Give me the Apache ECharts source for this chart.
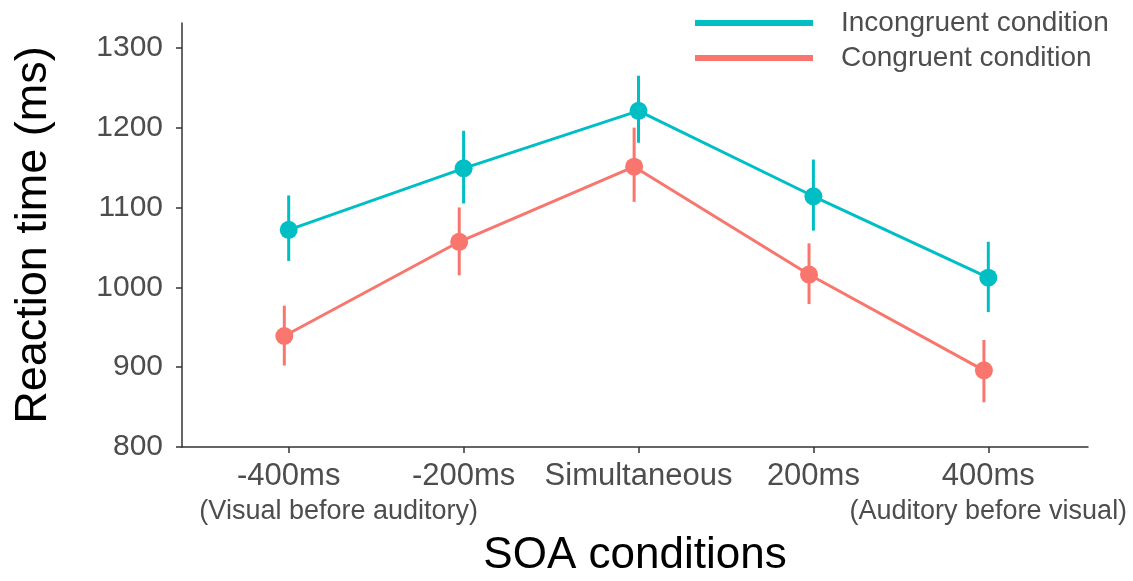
<!DOCTYPE html>
<html>
<head>
<meta charset="utf-8">
<script src="https://cdn.jsdelivr.net/npm/echarts@6/dist/echarts.min.js"></script>
<style>html,body{margin:0;padding:0;background:#fff}#c{width:1133px;height:581px}</style>
</head>
<body>
<div id="c"></div>
<script>
var categories = ['-400ms', '-200ms', 'Simultaneous', '200ms', '400ms'];
var subLabels = ['(Visual before auditory)', '', '', '', '(Auditory before visual)'];
var yTicks = [800, 900, 1000, 1100, 1200, 1300];
var incongruentMean = [1072, 1149, 1221, 1114, 1012];
var incongruentLow = [1033, 1105, 1181, 1071, 969];
var incongruentHigh = [1115, 1196, 1265, 1160, 1057];
var congruentMean = [939, 1057, 1151, 1016, 896];
var congruentLow = [902, 1015, 1107, 979, 856];
var congruentHigh = [977, 1100, 1200, 1055, 934];

var CYAN = '#00BFC4', RED = '#F8766D';
var SANS = '"Liberation Sans", Arial, sans-serif';
var offInc = 0, offCon = -0.025;

function pts(mean, off) { return mean.map(function (v, i) { return [i + 1 + off, v]; }); }
function bars(lo, hi, off) { return lo.map(function (v, i) { return [i + 1 + off, v, hi[i]]; }); }
function errRender(color) {
  return function (params, api) {
    var a = api.coord([api.value(0), api.value(1)]);
    var b = api.coord([api.value(0), api.value(2)]);
    return { type: 'line', shape: { x1: a[0], y1: a[1], x2: b[0], y2: b[1] },
             style: { stroke: color, lineWidth: 3 } };
  };
}
var xTickVals = categories.map(function (c, i) { return i + 1; });
var subTickVals = [];
subLabels.forEach(function (s, i) { if (s) subTickVals.push(i + 1); });

var chart = echarts.init(document.getElementById('c'));
chart.setOption({
  animation: false,
  grid: { left: 182, right: 45, top: 23, bottom: 134, containLabel: false, outerBoundsMode: 'none' },
  legend: {
    data: ['Incongruent condition', 'Congruent condition'],
    orient: 'vertical', left: 690, top: 4, itemGap: 7,
    itemWidth: 118, itemHeight: 6, icon: 'rect',
    textStyle: { fontFamily: SANS, fontSize: 28, color: '#4d4d4d', padding: [0, 0, 0, 23] }
  },
  xAxis: [{
    type: 'value', min: 0.39, max: 5.57, position: 'bottom',
    name: 'SOA conditions', nameLocation: 'middle', nameGap: 87, nameMoveOverlap: false,
    nameTextStyle: { fontFamily: SANS, fontSize: 44, color: '#000' },
    splitLine: { show: false },
    axisLine: { show: true, lineStyle: { color: '#333', width: 1.5 } },
    axisTick: { show: true, length: 6, customValues: xTickVals, lineStyle: { color: '#333', width: 1.5 } },
    axisLabel: {
      customValues: xTickVals, margin: 14, hideOverlap: false, interval: 0,
      fontFamily: SANS, fontSize: 31, color: '#4d4d4d',
      formatter: function (v) { return categories[Math.round(v) - 1]; }
    }
  }, {
    type: 'value', min: 0.39, max: 5.57, position: 'bottom', offset: 0,
    splitLine: { show: false },
    axisLine: { show: false }, axisTick: { show: false },
    axisLabel: {
      customValues: subTickVals, margin: 51, hideOverlap: false, interval: 0,
      formatter: function (v) {
        var i = Math.round(v) - 1;
        return '{' + (i === 0 ? 's1' : 's') + '|' + subLabels[i] + '}';
      },
      rich: {
        s: { fontFamily: SANS, fontSize: 27, color: '#4d4d4d' },
        s1: { fontFamily: SANS, fontSize: 27, color: '#4d4d4d', padding: [0, 0, 0, 100] }
      }
    }
  }],
  yAxis: {
    type: 'value', min: 800, max: 1331,
    name: 'Reaction time (ms)', nameLocation: 'middle', nameGap: 126, nameRotate: 90, nameMoveOverlap: false,
    nameTextStyle: { fontFamily: SANS, fontSize: 45, color: '#000' },
    splitLine: { show: false },
    axisLine: { show: true, lineStyle: { color: '#333', width: 1.5 } },
    axisTick: { show: true, length: 6, customValues: yTicks, lineStyle: { color: '#333', width: 1.5 } },
    axisLabel: { customValues: yTicks, margin: 19, fontFamily: SANS, fontSize: 30, color: '#4d4d4d',
      formatter: function (v) { return String(v); } }
  },
  series: [
    { name: 'Congruent condition', type: 'line', data: pts(congruentMean, offCon),
      color: RED, lineStyle: { color: RED, width: 3 }, symbol: 'circle', symbolSize: 18,
      itemStyle: { color: RED }, z: 3 },
    { name: 'Congruent err', type: 'custom', data: bars(congruentLow, congruentHigh, offCon),
      renderItem: errRender(RED), encode: { x: 0, y: [1, 2] }, z: 3 },
    { name: 'Incongruent condition', type: 'line', data: pts(incongruentMean, offInc),
      color: CYAN, lineStyle: { color: CYAN, width: 3 }, symbol: 'circle', symbolSize: 18,
      itemStyle: { color: CYAN }, z: 4 },
    { name: 'Incongruent err', type: 'custom', data: bars(incongruentLow, incongruentHigh, offInc),
      renderItem: errRender(CYAN), encode: { x: 0, y: [1, 2] }, z: 4 }
  ]
});
</script>
</body>
</html>
